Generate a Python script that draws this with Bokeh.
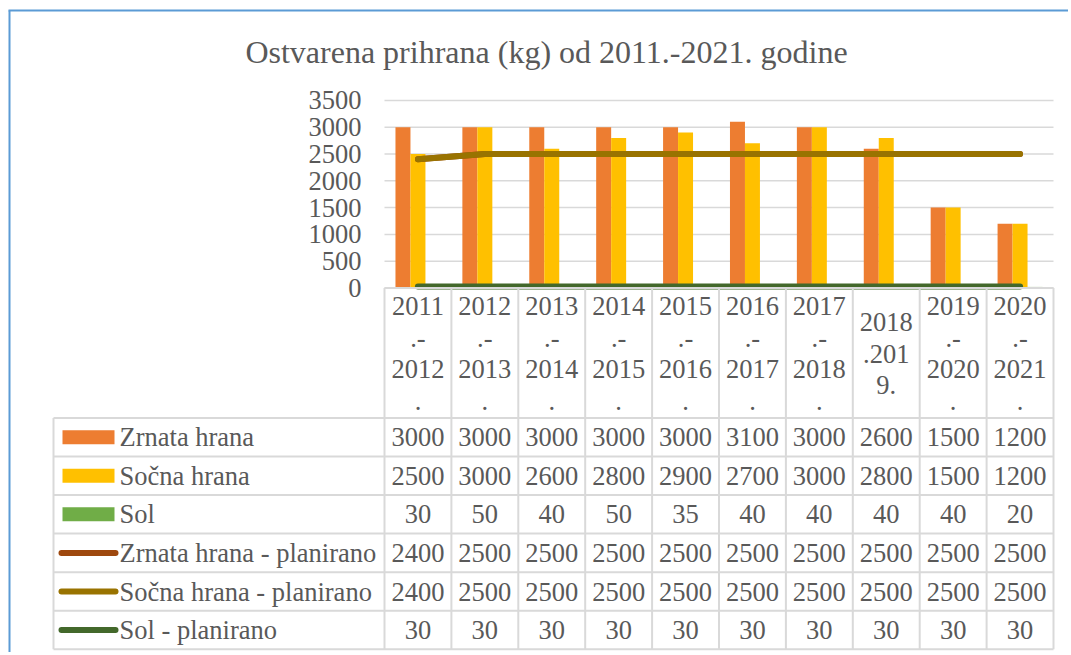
from bokeh.plotting import figure
from bokeh.models import Range1d
from bokeh.core.properties import value
from bokeh.embed import file_html
from bokeh.resources import INLINE

# ---------------- data ----------------
title_text = "Ostvarena prihrana (kg) od 2011.-2021. godine"
categories = ["2011\n.-\n2012\n.", "2012\n.-\n2013\n.", "2013\n.-\n2014\n.", "2014\n.-\n2015\n.",
              "2015\n.-\n2016\n.", "2016\n.-\n2017\n.", "2017\n.-\n2018\n.", "2018\n.201\n9.",
              "2019\n.-\n2020\n.", "2020\n.-\n2021\n."]
zrnata = [3000, 3000, 3000, 3000, 3000, 3100, 3000, 2600, 1500, 1200]
socna = [2500, 3000, 2600, 2800, 2900, 2700, 3000, 2800, 1500, 1200]
sol = [30, 50, 40, 50, 35, 40, 40, 40, 40, 20]
zrnata_plan = [2400, 2500, 2500, 2500, 2500, 2500, 2500, 2500, 2500, 2500]
socna_plan = [2400, 2500, 2500, 2500, 2500, 2500, 2500, 2500, 2500, 2500]
sol_plan = [30, 30, 30, 30, 30, 30, 30, 30, 30, 30]
y_ticks = [0, 500, 1000, 1500, 2000, 2500, 3000, 3500]
series_names = ["Zrnata hrana", "Sočna hrana", "Sol", "Zrnata hrana - planirano",
                "Sočna hrana - planirano", "Sol - planirano"]
series_values = [zrnata, socna, sol, zrnata_plan, socna_plan, sol_plan]
series_kind = ["bar", "bar", "bar", "line", "line", "line"]
series_colors = ["#ED7D31", "#FFC000", "#70AD47", "#9E480E", "#997300", "#43682B"]

# ---------------- layout helpers (page pixels -> data) ----------------
W, H = 1068, 652
LEFT0 = 384.0      # page x of first category's left edge
COLW = 66.9        # page px per category
ZERO_Y = 287.5     # page y of value 0
PX_PER_500 = 26.8


def X(px):
    return (px - LEFT0) / COLW


def Y(py):
    return (ZERO_Y - py) * 500.0 / PX_PER_500


def F():
    return value("Liberation Serif")


TXT = "#595959"
GRID = "#D9D9D9"
FS = "26.5px"

p = figure(width=W, height=H, output_backend="svg", toolbar_location=None,
           x_range=Range1d(X(0), X(W)), y_range=Range1d(Y(H), Y(0)),
           x_axis_location=None, y_axis_location=None, min_border=0)
p.grid.visible = False
p.outline_line_color = None
p.background_fill_color = "white"
p.border_fill_color = "white"

n = len(categories)
centers = [i + 0.5 for i in range(n)]

# chart frame border (blue)
p.segment(x0=[X(9)], y0=[Y(10)], x1=[X(9)], y1=[Y(H)], line_color="#5B9BD5", line_width=2)
p.segment(x0=[X(8)], y0=[Y(10)], x1=[X(W)], y1=[Y(10)], line_color="#5B9BD5", line_width=2)

# title
p.text(x=[X(546)], y=[Y(51)], text=[title_text], text_font=F(), text_font_size="32px",
       text_color=TXT, text_align="center", text_baseline="middle")

# gridlines and tick labels
p.segment(x0=[0] * len(y_ticks), x1=[n] * len(y_ticks), y0=y_ticks, y1=y_ticks,
          line_color=GRID, line_width=1.5)
p.text(x=[X(361)] * len(y_ticks), y=y_ticks, text=[str(t) for t in y_ticks], text_font=F(),
       text_font_size=FS, text_color=TXT, text_align="right", text_baseline="middle")

# bars
bw = 0.224
offsets = [-bw, 0.0, bw]
for k in range(3):
    p.vbar(x=[c + offsets[k] for c in centers], top=series_values[k], bottom=0, width=bw,
           fill_color=series_colors[k], line_color=None)

# lines
for k in range(3, 6):
    p.line(x=centers, y=series_values[k], line_color=series_colors[k], line_width=6,
           line_cap="round", line_join="round")

# ---------------- data table ----------------
row_edges = [417.5, 456.0, 494.6, 533.1, 571.7, 610.3, 648.8]
p.segment(x0=[0], x1=[n], y0=[0], y1=[0], line_color=GRID, line_width=2)
p.segment(x0=list(range(n + 1)), x1=list(range(n + 1)), y0=[0] * (n + 1),
          y1=[Y(row_edges[-1])] * (n + 1), line_color=GRID, line_width=2)
p.segment(x0=[X(53)] * len(row_edges), x1=[n] * len(row_edges), y0=[Y(r) for r in row_edges],
          y1=[Y(r) for r in row_edges], line_color=GRID, line_width=2)
p.segment(x0=[X(53)], x1=[X(53)], y0=[Y(row_edges[0])], y1=[Y(row_edges[-1])],
          line_color=GRID, line_width=2)

p.text(x=centers, y=[Y(353)] * n, text=categories, text_font=F(), text_font_size=FS,
       text_color=TXT, text_align="center", text_baseline="middle", text_line_height=1.05)

for r in range(6):
    yc = (row_edges[r] + row_edges[r + 1]) / 2.0
    if series_kind[r] == "bar":
        p.quad(left=[X(62)], right=[X(114)], top=[Y(yc - 7)], bottom=[Y(yc + 7)],
               fill_color=series_colors[r], line_color=None)
    else:
        p.segment(x0=[X(61)], x1=[X(115)], y0=[Y(yc)], y1=[Y(yc)], line_color=series_colors[r],
                  line_width=6, line_cap="round")
    p.text(x=[X(119)], y=[Y(yc)], text=[series_names[r]], text_font=F(), text_font_size=FS,
           text_color=TXT, text_align="left", text_baseline="middle")
    p.text(x=centers, y=[Y(yc)] * n, text=[str(v) for v in series_values[r]], text_font=F(),
           text_font_size=FS, text_color=TXT, text_align="center", text_baseline="middle")

open("out.html", "w").write(file_html(p, INLINE))
